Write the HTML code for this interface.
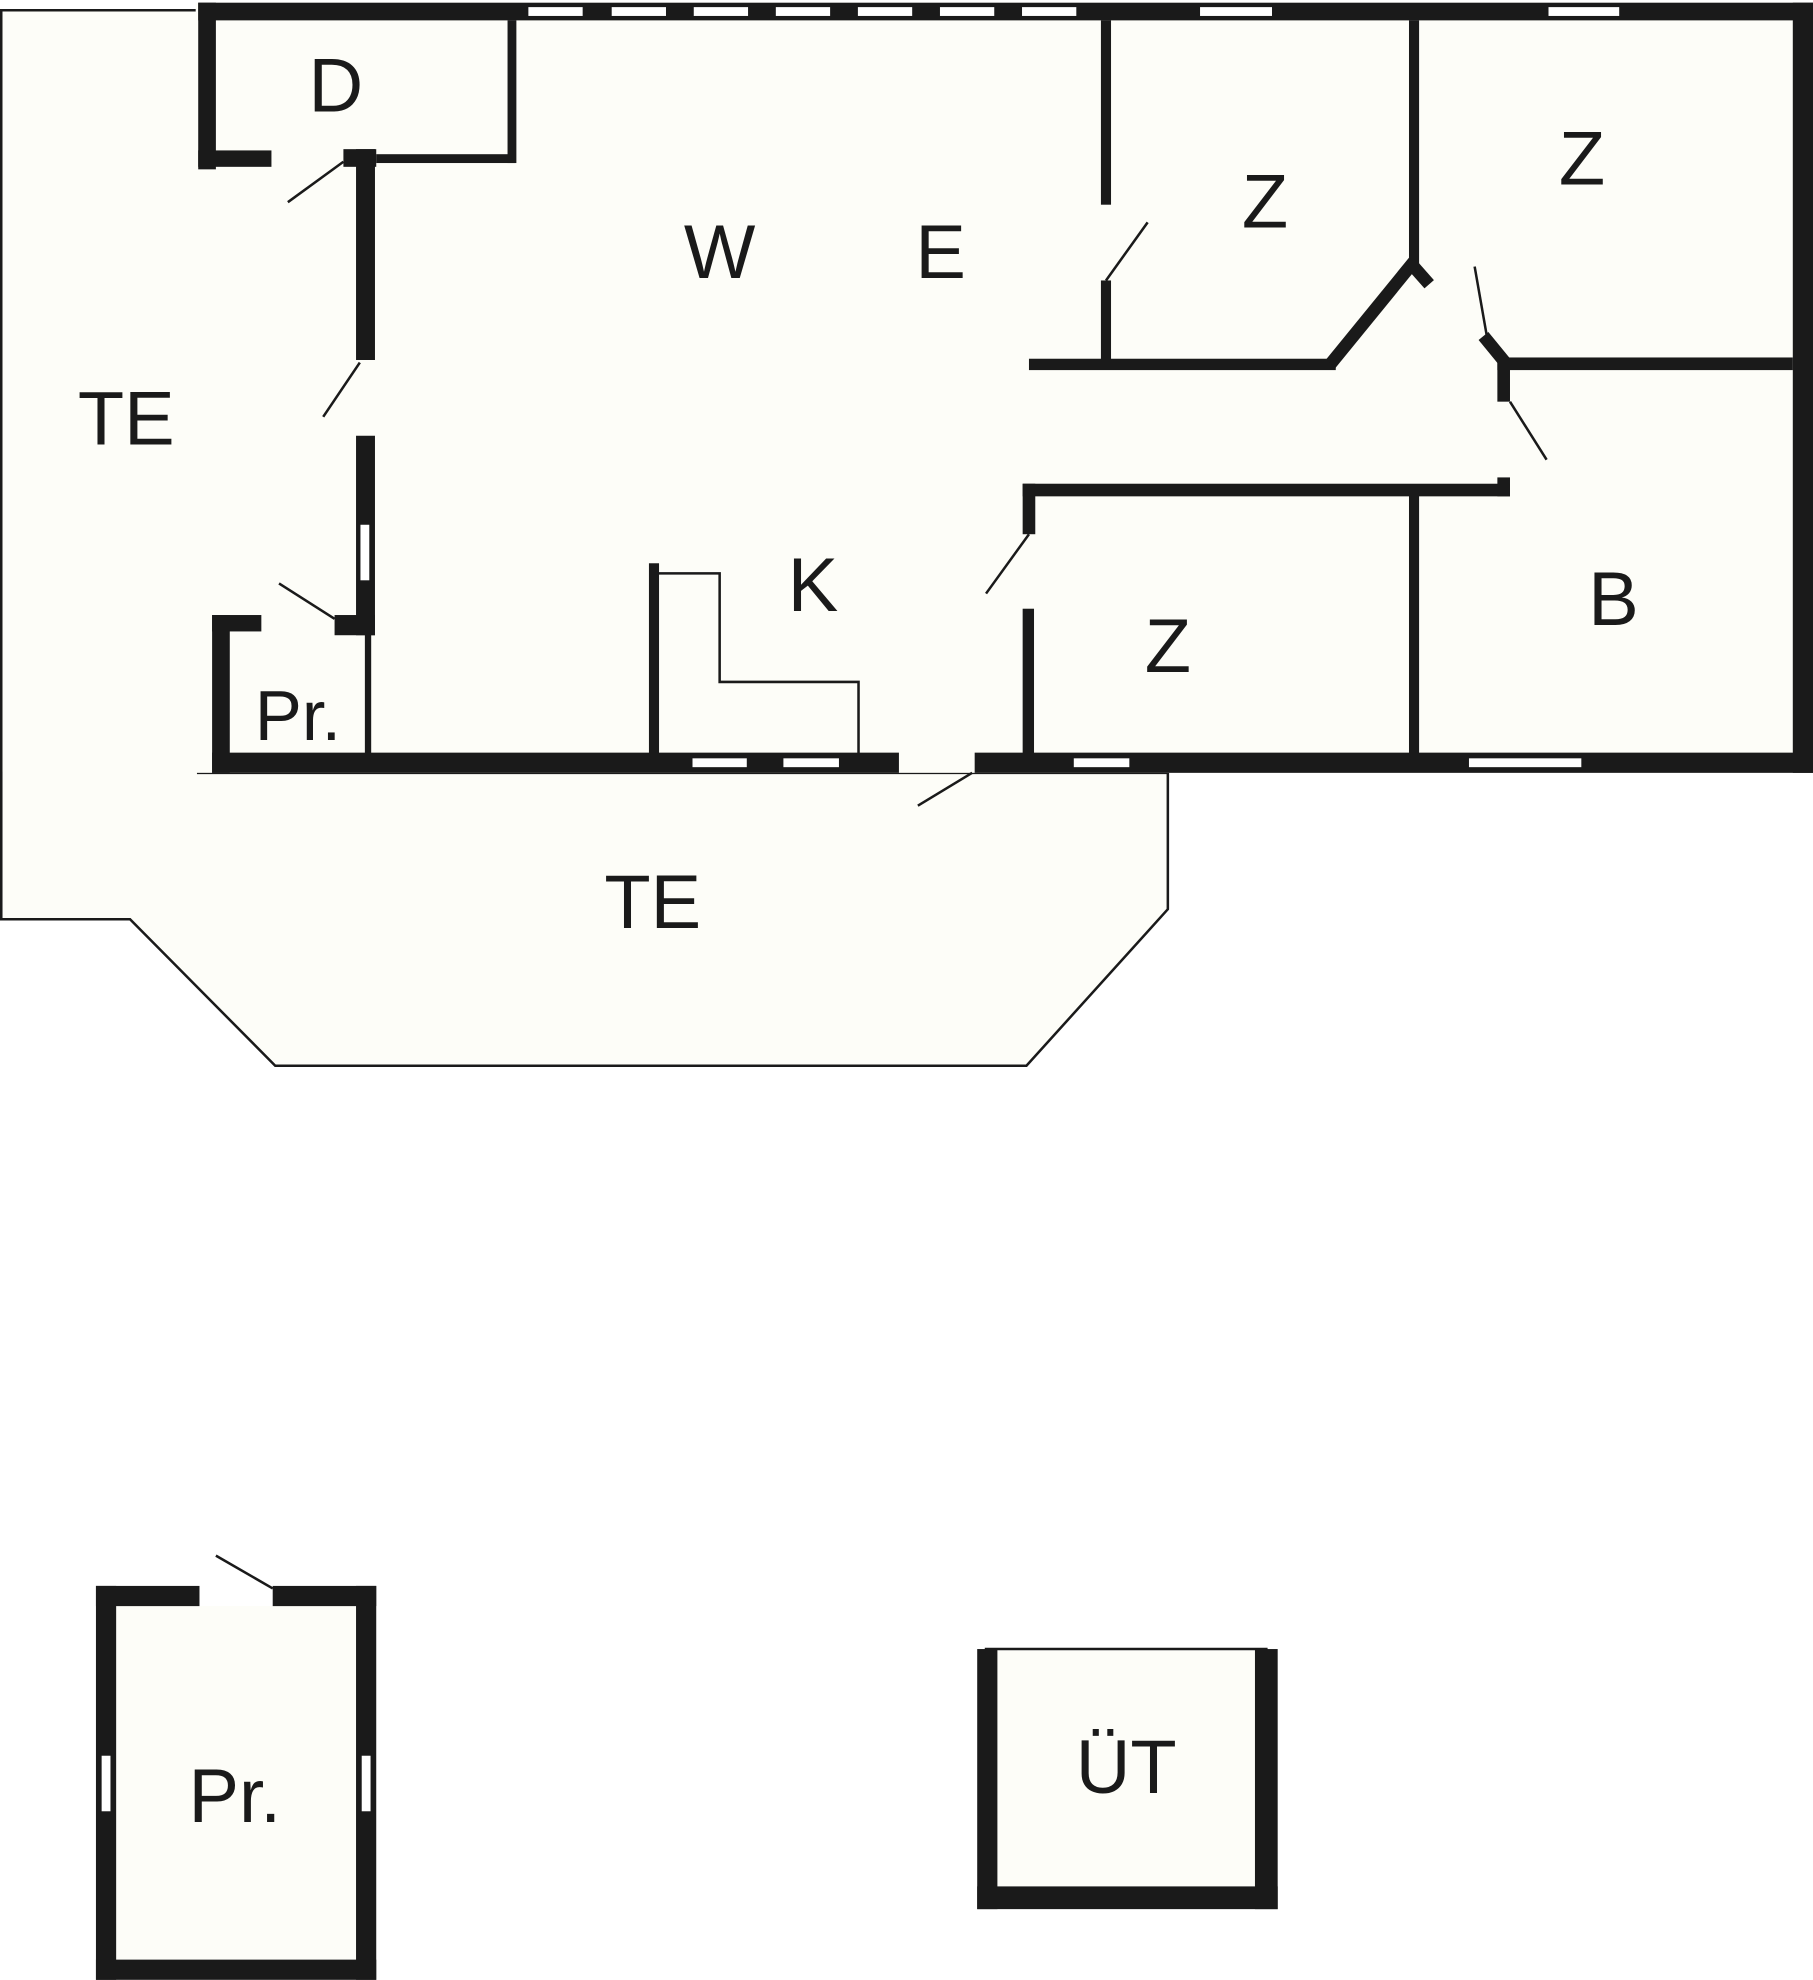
<!DOCTYPE html>
<html><head><style>
html,body{margin:0;padding:0;background:#fff;}
svg{display:block}
text{font-family:"Liberation Sans",sans-serif;fill:#1a1a1a;}
</style></head><body>
<svg width="1813" height="1980" viewBox="0 0 1436 1568" xmlns="http://www.w3.org/2000/svg">
<rect width="1436" height="1568" fill="#fff"/>
<polygon points="1,8 157,8 157,612 925,612 925,720 813,844 218,844 103,728 1,728" fill="#fdfdf8" stroke="#1a1a1a" stroke-width="2"/>
<rect x="155" y="2" width="1281" height="610" fill="#fdfdf8"/>
<polygon points="2,9 160,9 160,611 2,611" fill="#fdfdf8"/>
<rect x="92" y="1272" width="190" height="280" fill="#fdfdf8"/>
<rect x="790" y="1307" width="205" height="187" fill="#fdfdf8"/>
<g fill="#1a1a1a">
<rect x="157" y="2" width="1279" height="14"/>
<rect x="1420" y="2" width="16" height="610"/>
<rect x="157" y="2" width="14" height="132"/>
<rect x="157" y="119" width="58" height="13"/>
<rect x="272" y="118" width="26" height="14"/>
<rect x="298" y="122" width="110" height="7"/>
<rect x="402" y="16" width="7" height="113"/>
<rect x="282" y="118" width="15" height="167"/>
<rect x="282" y="345" width="15" height="158"/>
<rect x="168" y="487" width="39" height="13"/>
<rect x="265" y="487" width="32" height="16"/>
<rect x="168" y="487" width="14" height="125"/>
<rect x="289" y="500" width="5" height="100"/>
<rect x="168" y="596" width="544" height="16"/>
<rect x="772" y="596" width="664" height="16"/>
<rect x="514" y="446" width="8" height="154"/>
<rect x="810" y="482" width="9" height="118"/>
<rect x="810" y="383" width="10" height="40"/>
<rect x="810" y="383" width="386" height="10"/>
<rect x="1186" y="286" width="10" height="32"/>
<rect x="1186" y="378" width="10" height="15"/>
<rect x="815" y="284" width="243" height="9"/>
<rect x="1186" y="283" width="234" height="10"/>
<rect x="872" y="16" width="8" height="146"/>
<rect x="872" y="222" width="8" height="66"/>
<rect x="1116" y="16" width="8" height="196"/>
<rect x="1116" y="392" width="8" height="208"/>
<rect x="76" y="1256" width="16" height="312"/>
<rect x="282" y="1256" width="16" height="312"/>
<rect x="76" y="1552" width="222" height="16"/>
<rect x="76" y="1256" width="82" height="16"/>
<rect x="216" y="1256" width="82" height="16"/>
<rect x="774" y="1306" width="16" height="206"/>
<rect x="994" y="1306" width="18" height="206"/>
<rect x="774" y="1494" width="238" height="18"/>
</g>
<g stroke="#1a1a1a" fill="none">
<polyline points="1054,288 1120,207" stroke-width="10" stroke-linecap="butt"/>
<line x1="1117" y1="208" x2="1132" y2="225" stroke-width="10"/>
<line x1="1175" y1="266" x2="1193" y2="288" stroke-width="10"/>
<polyline points="518,454 570,454 570,540 680,540 680,598" stroke-width="2"/>
<line x1="780" y1="1306" x2="1004" y2="1306" stroke-width="2"/>
<g stroke-width="2">
<line x1="272" y1="128" x2="228" y2="160"/>
<line x1="285" y1="287" x2="256" y2="330"/>
<line x1="265" y1="490" x2="221" y2="462"/>
<line x1="876" y1="222" x2="909" y2="176"/>
<line x1="1178" y1="268" x2="1168" y2="211"/>
<line x1="1196" y1="318" x2="1225" y2="364"/>
<line x1="815" y1="423" x2="781" y2="470"/>
<line x1="770" y1="612" x2="727" y2="638"/>
<line x1="216" y1="1258" x2="171" y2="1232"/>
</g>
</g>
<g fill="#fff" stroke="#1a1a1a" stroke-width="1">
<rect x="418" y="5" width="44" height="8"/><rect x="484" y="5" width="44" height="8"/>
<rect x="549" y="5" width="44" height="8"/><rect x="614" y="5" width="44" height="8"/>
<rect x="679" y="5" width="44" height="8"/><rect x="744" y="5" width="44" height="8"/>
<rect x="809" y="5" width="44" height="8"/><rect x="950" y="5" width="58" height="8"/>
<rect x="1226" y="5" width="57" height="8"/>
<rect x="285" y="415" width="8" height="45"/>
<rect x="548" y="600" width="44" height="8"/><rect x="620" y="600" width="45" height="8"/>
<rect x="850" y="600" width="45" height="8"/><rect x="1163" y="600" width="90" height="8"/>
<rect x="80" y="1390" width="8" height="45"/><rect x="286" y="1390" width="8" height="45"/>
</g>
<g font-size="60" text-anchor="middle">
<text x="266" y="88">D</text>
<text x="570" y="220">W</text>
<text x="745" y="220">E</text>
<text x="1002" y="180">Z</text>
<text x="1253" y="146">Z</text>
<text x="100" y="352">TE</text>
<text x="644" y="484">K</text>
<text x="925" y="532">Z</text>
<text x="1278" y="495">B</text>
<text x="236" y="586" font-size="56">Pr.</text>
<text x="517" y="735">TE</text>
<text x="186" y="1443">Pr.</text>
<text x="892" y="1420">ÜT</text>
</g>
</svg>
</body></html>
